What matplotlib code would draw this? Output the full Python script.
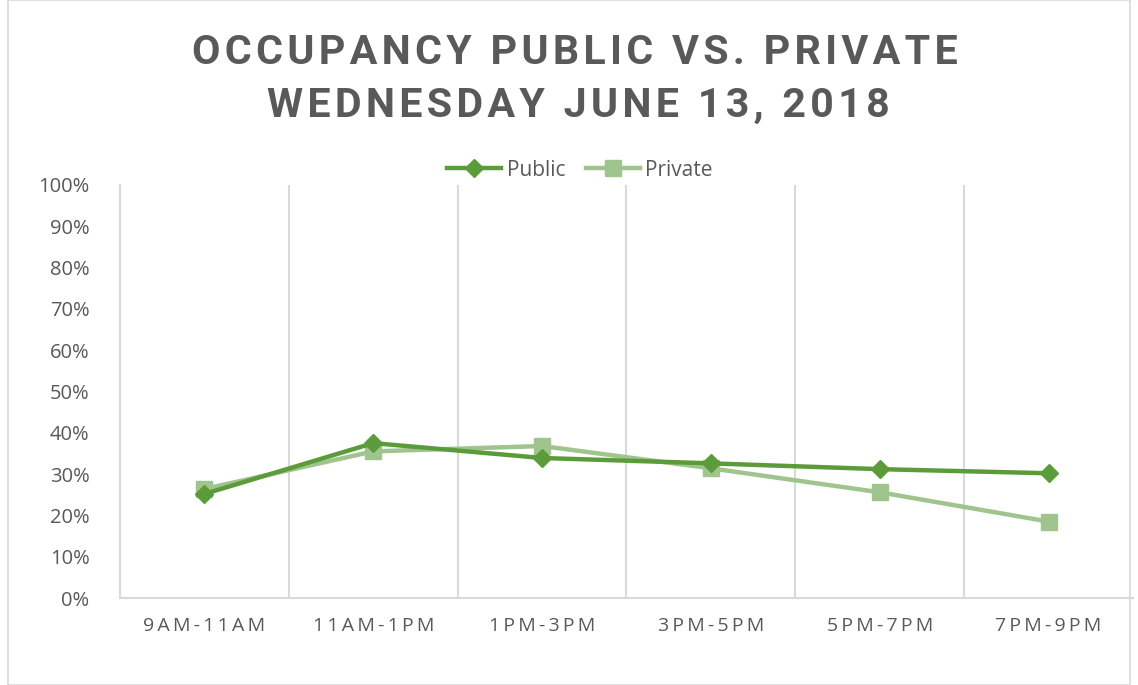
import matplotlib
matplotlib.use('Agg')
import matplotlib.pyplot as plt
from matplotlib.patches import Rectangle
from matplotlib.ticker import PercentFormatter

# ---------------------------------------------------------------------------
slots = ['9AM-11AM', '11AM-1PM', '1PM-3PM', '3PM-5PM', '5PM-7PM', '7PM-9PM']
public = [25.2, 37.5, 33.9, 32.6, 31.2, 30.2]
private = [26.4, 35.5, 36.8, 31.4, 25.6, 18.5]

TXT = '#595959'
GRID = '#d9d9d9'
C_PUB = '#5b9b3a'
C_PRI = '#a0c48e'


def spaced(s, gap='\u200a'):
    return gap.join(s)


fig = plt.figure(figsize=(11.38, 6.85), dpi=100)
fig.patches.append(Rectangle((8 / 1138, 0), 1 - 16 / 1138, 1, transform=fig.transFigure,
                             fill=False, edgecolor=GRID, lw=1.2))

ax = fig.add_axes([120 / 1138, 1 - 598 / 685, (1133 - 120) / 1138, (598 - 185) / 685])
x = list(range(len(slots)))
ax.plot(x, public, color=C_PUB, lw=3.2, marker='D', ms=9.5, label='Public', zorder=3)
ax.plot(x, private, color=C_PRI, lw=3.2, marker='s', ms=12, label='Private', zorder=2)

ax.set_xlim(-0.5, len(slots) - 0.5)
ax.set_ylim(0, 100)
ax.set_yticks(range(0, 101, 10))
ax.yaxis.set_major_formatter(PercentFormatter(decimals=0))
ax.set_xticks(x)
ax.set_xticklabels([spaced(s, '\u2009') for s in slots])
ax.set_xticks([i + 0.5 for i in x[:-1]], minor=True)
ax.grid(which='minor', axis='x', color=GRID, lw=1.5)
ax.tick_params(which='both', length=0)
ax.tick_params(axis='y', labelsize=14.5, labelcolor=TXT, pad=22)
ax.tick_params(axis='x', labelsize=14, labelcolor=TXT, pad=14)
for lab in ax.get_xticklabels() + ax.get_yticklabels():
    lab.set_family(['Open Sans', 'DejaVu Sans'])
for side in ['top', 'right']:
    ax.spines[side].set_visible(False)
ax.spines['left'].set_color(GRID)
ax.spines['bottom'].set_color(GRID)
ax.spines['left'].set_linewidth(1.5)
ax.spines['bottom'].set_linewidth(1.5)

leg = fig.legend(*ax.get_legend_handles_labels(), loc='center', bbox_to_anchor=(580 / 1138, 1 - 170 / 685),
                 ncol=2, frameon=False, prop={'family': 'Open Sans', 'size': 15}, handlelength=2.6,
                 columnspacing=1.0, handletextpad=0.25, borderpad=0)
for t in leg.get_texts():
    t.set_color(TXT)

fig.text(575 / 1138, 1 - 53 / 685, spaced('OCCUPANCY PUBLIC VS. PRIVATE'), ha='center', va='center',
         fontsize=29.7, fontweight='bold', family=['Roboto', 'DejaVu Sans'], color=TXT)
fig.text(578 / 1138, 1 - 106 / 685, spaced('WEDNESDAY JUNE 13, 2018'), ha='center', va='center',
         fontsize=29.7, fontweight='bold', family=['Roboto', 'DejaVu Sans'], color=TXT)

fig.savefig('out.png', dpi=100)
